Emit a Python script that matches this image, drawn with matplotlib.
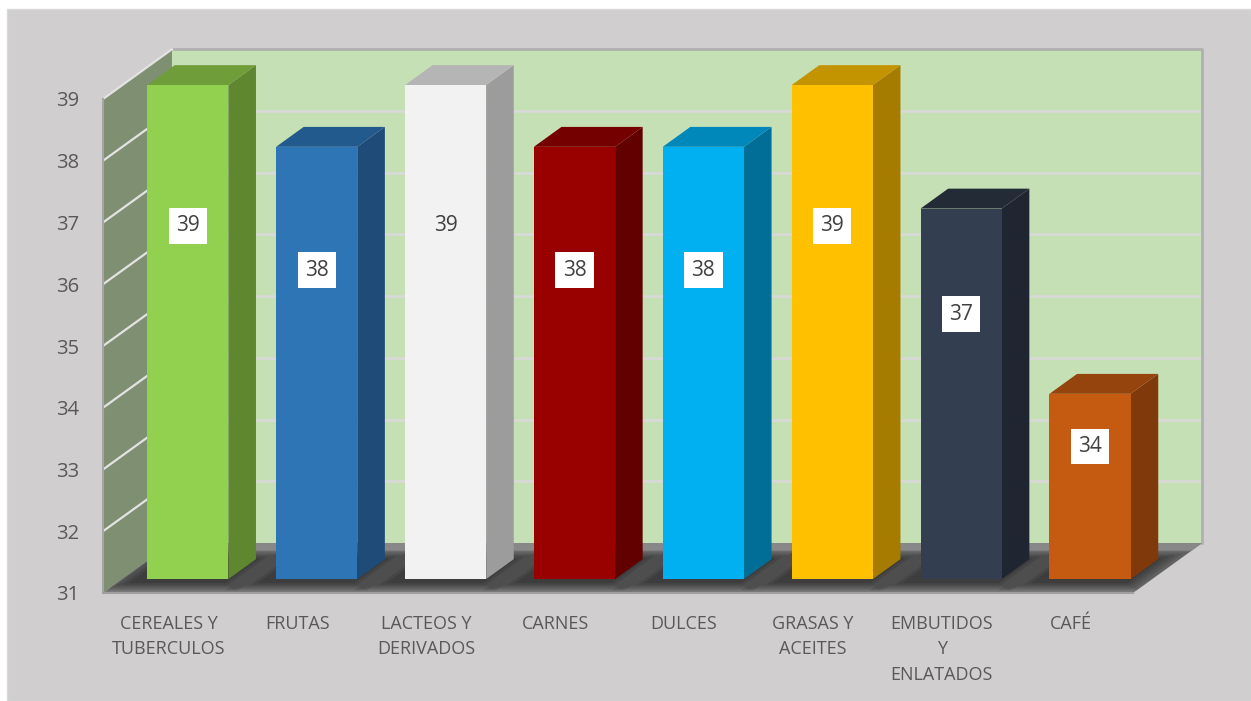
import matplotlib.pyplot as plt
from matplotlib.patches import Polygon, Rectangle

# datos
categorias = ['CEREALES Y\nTUBERCULOS', 'FRUTAS', 'LACTEOS Y\nDERIVADOS', 'CARNES',
              'DULCES', 'GRASAS Y\nACEITES', 'EMBUTIDOS\nY\nENLATADOS', 'CAFÉ']
valores = [39, 38, 39, 38, 38, 39, 37, 34]
color_frente = ['#92D050', '#2E75B6', '#F2F2F2', '#990000', '#00B0F0', '#FFC000', '#333F50', '#C55A11']
color_arriba = ['#6F9D3A', '#225A8E', '#B5B5B5', '#750000', '#0088BA', '#C49300', '#232B37', '#96440D']
color_lado = ['#5E8730', '#1E4B78', '#9C9C9C', '#620000', '#006E96', '#A67C00', '#1F2631', '#7F390A']

plt.rcParams['font.family'] = ['Open Sans', 'DejaVu Sans']

# profundidad del grafico 3D (en unidades de datos)
DX, DY = 0.535, 0.806
d0, d1 = 0.28, 0.68
ancho = 0.63
ymin, ymax = 31, 39
xl, xr = -0.508, 7.483


def proj(x, v, d):
    return (x + d * DX, v + d * DY)


def cara(ax, pts, color, z):
    ax.add_patch(Polygon([proj(*p) for p in pts], closed=True, facecolor=color,
                         edgecolor='none', lw=0, zorder=z, clip_on=False))


fig = plt.figure(figsize=(12.51, 7.01), dpi=100)
fig.patch.set_facecolor('white')
fig.add_artist(Rectangle((7 / 1251, 0), 1 - 7 / 1251, (701 - 9) / 701, transform=fig.transFigure,
                         facecolor='#D0CECE', edgecolor='#D9D9D9', lw=1, zorder=0))

ax = fig.add_axes([103 / 1251, (701 - 593) / 701, 1030 / 1251, 494 / 701])
ax.set_xlim(xl, xr)
ax.set_ylim(ymin, ymax)
ax.patch.set_alpha(0)
for s in ax.spines.values():
    s.set_visible(False)

# pared del fondo
cara(ax, [(xl, ymin, 1), (xr, ymin, 1), (xr, ymax, 1), (xl, ymax, 1)], '#C5E0B4', 1)
for v in range(ymin + 1, ymax):
    a, b = proj(xl, v, 1), proj(xr, v, 1)
    ax.plot([a[0], b[0]], [a[1], b[1]], color='#D9D9D9', lw=1.8, zorder=1.1, clip_on=False)
a, b, c = proj(xl, ymax, 1), proj(xr, ymax, 1), proj(xr, ymin, 1)
ax.plot([a[0], b[0], c[0]], [a[1], b[1], c[1]], color='#B0B0B0', lw=2, zorder=1.2, clip_on=False)

# pared izquierda
cara(ax, [(xl, ymin, 0), (xl, ymax, 0), (xl, ymax, 1), (xl, ymin, 1)], '#7F8F71', 1.5)
for v in range(ymin + 1, ymax + 1):
    a, b = proj(xl, v, 0), proj(xl, v, 1)
    ax.plot([a[0], b[0]], [a[1], b[1]], color='#E3E3E3', lw=1.6, zorder=1.6, clip_on=False)
a, b = proj(xl, ymin, 0), proj(xl, ymax, 0)
ax.plot([a[0], b[0]], [a[1], b[1]], color='#A6A6A6', lw=1.5, zorder=1.6, clip_on=False)

# piso
cara(ax, [(xl, ymin, 0), (xr, ymin, 0), (xr, ymin, 1), (xl, ymin, 1)], '#787878', 2)
cara(ax, [(xl, ymin, 0.85), (xr, ymin, 0.85), (xr, ymin, 1), (xl, ymin, 1)], '#888888', 2.05)
a, b = proj(xl, ymin, 0), proj(xr, ymin, 0)
ax.plot([a[0], b[0]], [a[1], b[1]], color='#A0A0A0', lw=1.5, zorder=2.1, clip_on=False)

# sombras de las barras sobre el piso
for i in range(len(valores)):
    for k in range(6):
        ex = 0.035 * k
        ez = 0.03 * k
        x0 = max(i - ancho / 2 - 0.1 - ex, xl)
        x1 = min(i + ancho / 2 + 0.02 + ex, xr)
        cara(ax, [(x0, ymin, d0 - 0.08 - ez), (x1, ymin, d0 - 0.08 - ez),
                  (x1, ymin, d1 + 0.02 + ez), (x0, ymin, d1 + 0.02 + ez)],
             (0, 0, 0, 0.1), 2.2)

# barras
for i, v in enumerate(valores):
    x0, x1 = i - ancho / 2, i + ancho / 2
    cara(ax, [(x1, ymin, d0), (x1, v, d0), (x1, v, d1), (x1, ymin, d1)], color_lado[i], 3)
    cara(ax, [(x0, v, d0), (x1, v, d0), (x1, v, d1), (x0, v, d1)], color_arriba[i], 3)
    cara(ax, [(x0, ymin, d0), (x1, ymin, d0), (x1, v, d0), (x0, v, d0)], color_frente[i], 3.1)
    cx, cy = proj(i, v - 0.285 * (v - ymin), d0)
    ax.text(cx, cy, str(v), ha='center', va='center', fontsize=15, color='#404040', zorder=5,
            bbox=dict(boxstyle='square,pad=0.35', facecolor=('white' if i != 2 else color_frente[i]),
                      edgecolor='none'))

ax.set_yticks(range(ymin, ymax + 1))
ax.set_xticks(range(len(categorias)))
ax.set_xticklabels(categorias, linespacing=1.55)
ax.tick_params(axis='y', length=0, pad=17, labelsize=14.5, labelcolor='#595959')
ax.tick_params(axis='x', length=0, pad=15.5, labelsize=13, labelcolor='#595959')
for t in ax.get_xticklabels():
    t.set_verticalalignment('top')

fig.savefig('out.png', dpi=100)
